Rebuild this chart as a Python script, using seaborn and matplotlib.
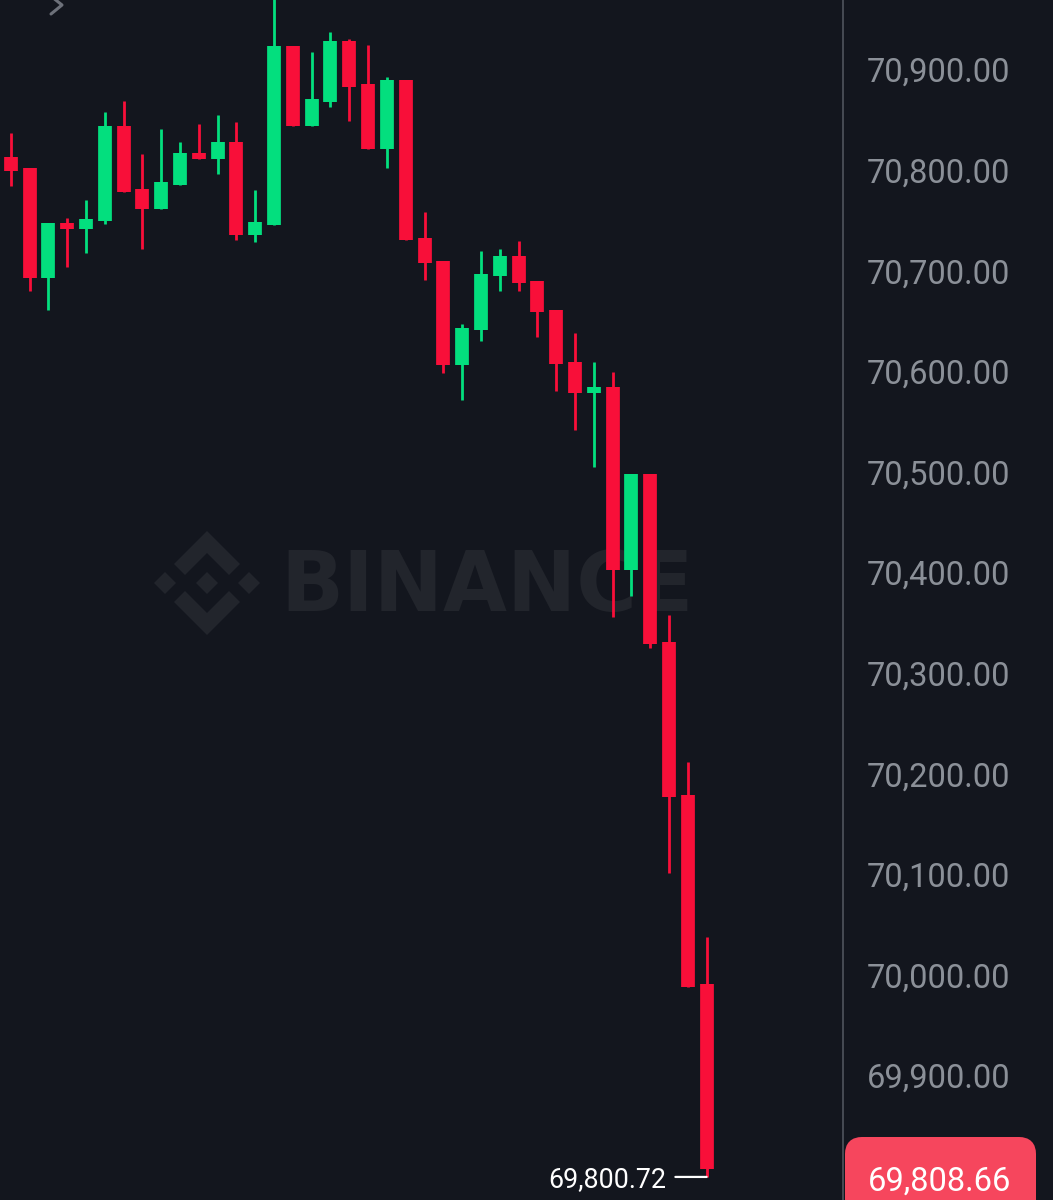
import matplotlib
matplotlib.use("Agg")
import matplotlib.pyplot as plt
import pandas as pd
import seaborn as sns
from matplotlib.lines import Line2D
from matplotlib.patches import FancyBboxPatch, Polygon
from matplotlib.transforms import ScaledTranslation

# Candles (oldest to newest)
opens = [70814.5, 70803.6, 70694.2, 70748.9, 70742.9, 70750.9, 70845.3, 70782.7, 70762.8, 70786.7,
         70818.5, 70812.5, 70829.4, 70737.0, 70746.9, 70924.9, 70845.3, 70869.2, 70929.8, 70887.1,
         70822.5, 70891.1, 70734.0, 70711.1, 70607.8, 70642.6, 70696.2, 70716.1, 70691.3, 70662.4,
         70610.7, 70579.9, 70585.9, 70404.0, 70499.4, 70332.4, 70180.3, 69992.5]
highs = [70838.4, 70803.6, 70748.9, 70753.9, 70771.8, 70859.2, 70870.2, 70817.5, 70842.3, 70829.4,
         70847.3, 70856.3, 70849.3, 70781.7, 70980.5, 70924.9, 70918.9, 70938.8, 70931.8, 70925.8,
         70894.0, 70891.1, 70759.8, 70711.1, 70648.5, 70721.1, 70723.1, 70731.0, 70691.3, 70662.4,
         70639.6, 70610.7, 70600.8, 70499.4, 70499.4, 70359.3, 70213.1, 70039.2]
lows = [70785.7, 70681.3, 70662.4, 70705.2, 70719.1, 70747.9, 70779.7, 70723.1, 70762.8, 70786.7,
        70812.5, 70797.6, 70732.0, 70730.0, 70746.9, 70845.3, 70845.3, 70864.2, 70850.3, 70822.5,
        70803.6, 70732.0, 70692.3, 70599.8, 70573.0, 70631.6, 70681.3, 70681.3, 70635.6, 70581.9,
        70543.2, 70506.4, 70357.3, 70378.1, 70326.5, 70102.8, 69989.5, 69800.72]
closes = [70800.6, 70694.2, 70748.9, 70742.9, 70752.9, 70845.3, 70779.7, 70762.8, 70789.7, 70818.5,
          70812.5, 70829.4, 70737.0, 70749.9, 70924.9, 70845.3, 70872.2, 70929.8, 70884.1, 70822.5,
          70891.1, 70732.0, 70709.2, 70607.8, 70644.5, 70698.2, 70716.1, 70689.3, 70660.4, 70608.8,
          70579.9, 70585.9, 70404.0, 70499.4, 70330.4, 70178.4, 69989.5, 69808.66]

price_ticks = [70900, 70800, 70700, 70600, 70500, 70400, 70300, 70200, 70100, 70000, 69900]
price_labels = ["70,900.00", "70,800.00", "70,700.00", "70,600.00", "70,500.00", "70,400.00",
                "70,300.00", "70,200.00", "70,100.00", "70,000.00", "69,900.00"]
last_price = "69,808.66"
low_price = 69800.72
low_label = "69,800.72"

BG = "#13161e"
UP = "#03df7e"
DOWN = "#f80f39"
GREY = "#8b9098"
MARK = "#22252c"

df = pd.DataFrame({"open": opens, "high": highs, "low": lows, "close": closes})
df["idx"] = df.index
df["side"] = ["up" if c > o else "down" for o, c in zip(df["open"], df["close"])]

# Each candle is two short vertical lines: wick and body
wicks = df.melt(id_vars=["idx", "side"], value_vars=["high", "low"], value_name="price")
bodies = df.melt(id_vars=["idx", "side"], value_vars=["open", "close"], value_name="price")

sns.set_theme(style="dark", rc={"axes.facecolor": BG, "figure.facecolor": BG})
plt.rcParams["font.family"] = ["Roboto", "DejaVu Sans"]

fig = plt.figure(figsize=(10.53, 12), dpi=100)

# Layer in pixel coordinates for the watermark and the price tag
back = fig.add_axes([0, 0, 1, 1], zorder=0)
back.set_xlim(0, 1053)
back.set_ylim(1200, 0)
back.axis("off")

# Binance logo
cx, cy = 207, 583
for dx, dy in [(0, 0), (-42, 0), (42, 0)]:
    back.add_patch(Polygon([(cx + dx, cy + dy - 11), (cx + dx + 11, cy + dy),
                            (cx + dx, cy + dy + 11), (cx + dx - 11, cy + dy)], color=MARK, lw=0))
for s in [-1, 1]:
    back.add_patch(Polygon([(cx, cy + s * 52), (cx + 33, cy + s * 19), (cx + 22, cy + s * 8),
                            (cx, cy + s * 30), (cx - 22, cy + s * 8), (cx - 33, cy + s * 19)],
                           color=MARK, lw=0))
back.text(280, 611, "BINANCE", color=MARK, fontsize=59.5, fontweight="bold", family="DejaVu Sans",
          va="baseline", ha="left")

# Little chevron top left
back.add_line(Line2D([52, 62, 51], [-3, 5, 14], color="#6d717a", lw=2.2))

# Last price tag, cut by the bottom edge
back.add_patch(FancyBboxPatch((850, 1142), 181, 80, boxstyle="round,pad=0,rounding_size=12",
                              fc="#f6465d", ec="#f6465d", lw=10 * 0.72, clip_on=True))
back.text(940, 1178.5, last_price, color="white", fontsize=23.5, ha="center", va="center_baseline")

# Chart itself
ax = fig.add_axes([0, 0, 843 / 1053, 1], zorder=1)
ax.patch.set_alpha(0)
palette = {"up": UP, "down": DOWN}
sns.lineplot(data=wicks, x="idx", y="price", hue="side", units="idx", estimator=None, sort=False,
             palette=palette, linewidth=2.0, legend=False, solid_capstyle="butt", ax=ax)
sns.lineplot(data=bodies, x="idx", y="price", hue="side", units="idx", estimator=None, sort=False,
             palette=palette, linewidth=9.9, legend=False, solid_capstyle="butt", ax=ax)

ax.set_xlim(-0.569, 44.25)
ax.set_ylim(69777.8, 70970.6)
ax.set_xlabel("")
ax.set_ylabel("")
ax.set_xticks([])
ax.grid(False)
ax.yaxis.tick_right()
ax.set_yticks(price_ticks)
ax.set_yticklabels(price_labels, ha="right", va="center_baseline")
ax.tick_params(axis="y", length=0, pad=120.5, labelsize=23.5, labelcolor=GREY)
# Nudge the labels up so they sit centred on their price level
nudge = ScaledTranslation(0, 1.5 / 100, fig.dpi_scale_trans)
for tick in ax.yaxis.get_major_ticks():
    tick.label2.set_transform(tick.label2.get_transform() + nudge)
for side in ["top", "left", "bottom"]:
    ax.spines[side].set_visible(False)
ax.spines["right"].set_color("#474b54")
ax.spines["right"].set_linewidth(1.4)

# Session low marker: the label and its short dash
last_idx = df["idx"].iloc[-1]
ax.annotate(low_label, xy=(last_idx, low_price), xytext=(-29, 0), textcoords="offset points",
            color="white", fontsize=19.4, ha="right", va="center_baseline")
ax.annotate("", xy=(last_idx, low_price), xytext=(-22.5, 0), textcoords="offset points",
            arrowprops=dict(arrowstyle="-", color="white", lw=1.6, shrinkA=0, shrinkB=0))

fig.savefig("out.png", dpi=100, facecolor=BG)
